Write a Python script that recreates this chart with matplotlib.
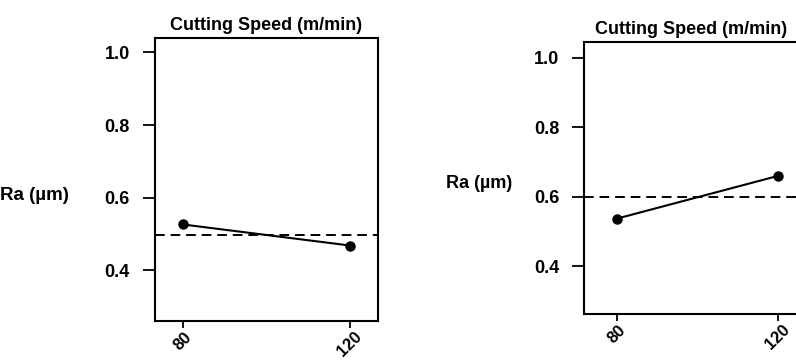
import matplotlib.pyplot as plt
import numpy as np

# Main effects of cutting speed on surface roughness
speed = [80, 120]
ra_left = [0.526, 0.468]
ra_right = [0.537, 0.660]
yticks = [0.4, 0.6, 0.8, 1.0]
title = 'Cutting Speed (m/min)'
ylabel = 'Ra (\u00b5m)'


def style_axes(ax, ylim, xlim, title_x=0.5):
    ax.set_xlim(xlim)
    ax.set_ylim(ylim)
    ax.set_yticks(yticks)
    ax.set_yticklabels(['%.1f' % v for v in yticks], fontweight='bold')
    ax.set_xticks(speed)
    ax.set_xticklabels([str(s) for s in speed], rotation=45, ha='center',
                       fontweight='bold', fontsize=12)
    ax.tick_params(axis='y', direction='out', length=9, width=1.3,
                   labelsize=13, pad=9)
    ax.tick_params(axis='x', direction='out', length=5, width=1.3, pad=1)
    for s in ax.spines.values():
        s.set_linewidth(1.5)
    ax.set_title(title, fontsize=13, fontweight='bold', pad=6, x=title_x)


def main():
    plt.rcParams['font.family'] = ['Liberation Sans', 'DejaVu Sans']
    fig = plt.figure(figsize=(7.96, 3.62), dpi=100)

    # Left panel
    ax1 = fig.add_axes([0.1947, 0.1133, 0.280, 0.7818])
    ax1.plot(speed, ra_left, color='k', lw=1.5, marker='o', ms=6.5)
    ax1.axhline(np.mean(ra_left), color='k', lw=1.4, ls=(0, (5, 3)))
    style_axes(ax1, (0.26, 1.04), (73.3, 126.7))
    fig.text(0.0, 1 - 195 / 362, ylabel, fontsize=13.5, fontweight='bold',
             va='center', ha='left')

    # Right panel (cut off at the figure edge)
    ax2 = fig.add_axes([0.7337, 0.1326, 0.285, 0.7514])
    ax2.plot(speed, ra_right, color='k', lw=1.5, marker='o', ms=6.5)
    ax2.axhline(np.mean(ra_right), color='k', lw=1.4, ls=(0, (5, 3)))
    style_axes(ax2, (0.262, 1.046), (71.8, 128.2), title_x=0.47)
    fig.text(446 / 796, 1 - 183 / 362, ylabel, fontsize=13, fontweight='bold',
             va='center', ha='left')

    fig.savefig('out.png', dpi=100)
    plt.close()


if __name__ == "__main__":
    main()
